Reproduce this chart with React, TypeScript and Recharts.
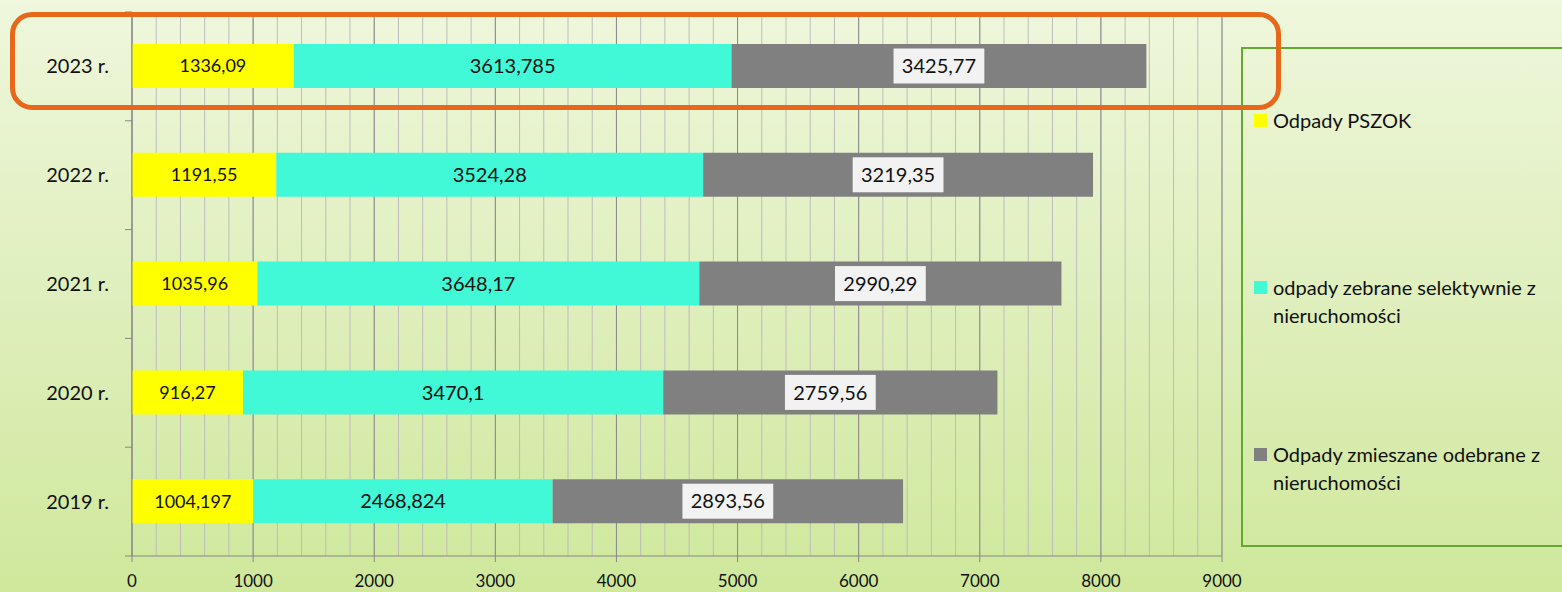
import { BarChart, Bar, XAxis, YAxis, CartesianGrid, Legend, LabelList } from "recharts";

// rows listed top to bottom, as on the chart
const years = ["2023 r.", "2022 r.", "2021 r.", "2020 r.", "2019 r."];
const pszok = [1336.09, 1191.55, 1035.96, 916.27, 1004.197];
const selektywne = [3613.785, 3524.28, 3648.17, 3470.1, 2468.824];
const zmieszane = [3425.77, 3219.35, 2990.29, 2759.56, 2893.56];

const seriesNames = [
  "Odpady PSZOK",
  "odpady zebrane selektywnie z nieruchomości",
  "Odpady zmieszane odebrane z nieruchomości",
];
const seriesKeys = ["pszok", "selektywne", "zmieszane"];
const seriesColors = ["#FFFF00", "#41F8D7", "#808080"];

const xTicks = [0, 1000, 2000, 3000, 4000, 5000, 6000, 7000, 8000, 9000];
const X_MAX = 9000;
const minorGrid = Array.from({ length: 46 }, (_, i) => i * 200);

const chartData = years.map((year, i) => ({
  year,
  pszok: pszok[i],
  selektywne: selektywne[i],
  zmieszane: zmieszane[i],
}));

const FONT = "Lato, 'Open Sans', sans-serif";
const WIDTH = 1562;
const HEIGHT = 592;
const MARGIN = { top: 12, right: 340, bottom: 6, left: 0 };
const X_AXIS_H = 30;
const PLOT_H = HEIGHT - MARGIN.top - MARGIN.bottom - X_AXIS_H;
const BAND = PLOT_H / years.length;

const fmt = (v: number) => String(v).replace(".", ",");

// minor grid every 200, through the axis scale
const minorLines = (props: any) => {
  const { xAxis, offset } = props;
  const scale = xAxis && xAxis.scale;
  if (typeof scale === "function") return minorGrid.map((v) => scale(v));
  return minorGrid.map((v) => offset.left + (v / X_MAX) * offset.width);
};

function YearTick(props: any) {
  const { x, y, payload, index } = props;
  return (
    <g>
      <line x1={x + 16} x2={x + 23} y1={y - BAND / 2} y2={y - BAND / 2} stroke="#878787" />
      {index === years.length - 1 && (
        <line x1={x + 16} x2={x + 23} y1={y + BAND / 2} y2={y + BAND / 2} stroke="#878787" />
      )}
      <text x={x} y={y} dy="0.35em" textAnchor="end" fontSize={20} fontFamily={FONT} fill="#111">
        {payload.value}
      </text>
    </g>
  );
}

function BoxLabel(props: any) {
  const vb = props.viewBox ?? props;
  const { x, y, width, height } = vb;
  const text = fmt(props.value);
  const digits = text.replace(",", "").length;
  const w = digits * 11.6 + 5.2 + 16;
  const cx = x + width / 2;
  const cy = y + height / 2;
  return (
    <g>
      <rect x={cx - w / 2} y={cy - 17.5} width={w} height={35} fill="#F2F2F2" />
      <text x={cx} y={cy} dy="0.36em" textAnchor="middle" fontSize={20} fontFamily={FONT} fill="#111">
        {text}
      </text>
    </g>
  );
}

function LegendBox() {
  const tops = [57, 224, 391];
  return (
    <div
      style={{
        position: "relative",
        width: 321,
        height: 500,
        boxSizing: "border-box",
        borderTop: "2px solid #64A832",
        borderLeft: "2px solid #64A832",
        borderBottom: "2px solid #64A832",
        fontFamily: FONT,
        fontSize: 20,
        color: "#111",
      }}
    >
      {seriesNames.map((name, i) => {
        const cut = name.lastIndexOf(" nieruchomości");
        const lines = cut > 0 ? [name.slice(0, cut), name.slice(cut + 1)] : [name];
        return (
          <div key={name} style={{ position: "absolute", left: 0, top: tops[i], width: 321 }}>
            <div
              style={{
                position: "absolute",
                left: 11,
                top: 7.5,
                width: 13,
                height: 13,
                background: seriesColors[i],
              }}
            />
            <div style={{ position: "absolute", left: 30, top: 0, lineHeight: "28px", whiteSpace: "nowrap" }}>
              {lines.map((l) => (
                <div key={l}>{l}</div>
              ))}
            </div>
          </div>
        );
      })}
    </div>
  );
}

export default function App() {
  return (
    <div
      style={{
        position: "relative",
        width: WIDTH,
        height: HEIGHT,
        overflow: "hidden",
        background: "linear-gradient(180deg, #EFF7DC 0%, #DFEFBD 50%, #CFE89B 100%)",
      }}
    >
      <style>{"body{margin:0;overflow:hidden}"}</style>
      <BarChart width={WIDTH} height={HEIGHT} data={chartData} layout="vertical" margin={MARGIN}>
        <CartesianGrid horizontal={false} verticalCoordinatesGenerator={minorLines} stroke="#BDBDBD" />
        <CartesianGrid horizontal={false} stroke="#8A8A8A" />
        <XAxis
          type="number"
          domain={[0, X_MAX]}
          ticks={xTicks}
          height={X_AXIS_H}
          stroke="#878787"
          tickSize={6}
          tickMargin={13}
          tick={{ fontSize: 17, fontFamily: FONT, fill: "#111" }}
        />
        <YAxis
          type="category"
          dataKey="year"
          width={132}
          stroke="#878787"
          tickLine={false}
          tickSize={0}
          tickMargin={23}
          tick={<YearTick />}
        />
        <Legend
          layout="vertical"
          align="center"
          verticalAlign="middle"
          wrapperStyle={{ left: 1241, top: 47, width: 321, height: 500 }}
          content={() => <LegendBox />}
        />
        {seriesKeys.map((key, i) => (
          <Bar
            key={key}
            dataKey={key}
            name={seriesNames[i]}
            stackId="a"
            fill={seriesColors[i]}
            barSize={44}
            isAnimationActive={false}
          >
            {i === 2 ? (
              <LabelList dataKey={key} content={<BoxLabel />} />
            ) : (
              <LabelList
                dataKey={key}
                position="center"
                formatter={(v: any) => fmt(v)}
                fontSize={i === 0 ? 18 : 20}
                fontFamily={FONT}
                fill="#111"
              />
            )}
          </Bar>
        ))}
      </BarChart>
      <div
        style={{
          position: "absolute",
          left: 10,
          top: 12,
          width: 1271,
          height: 98,
          boxSizing: "border-box",
          border: "5px solid #E8681B",
          borderRadius: 22,
          pointerEvents: "none",
        }}
      />
    </div>
  );
}
